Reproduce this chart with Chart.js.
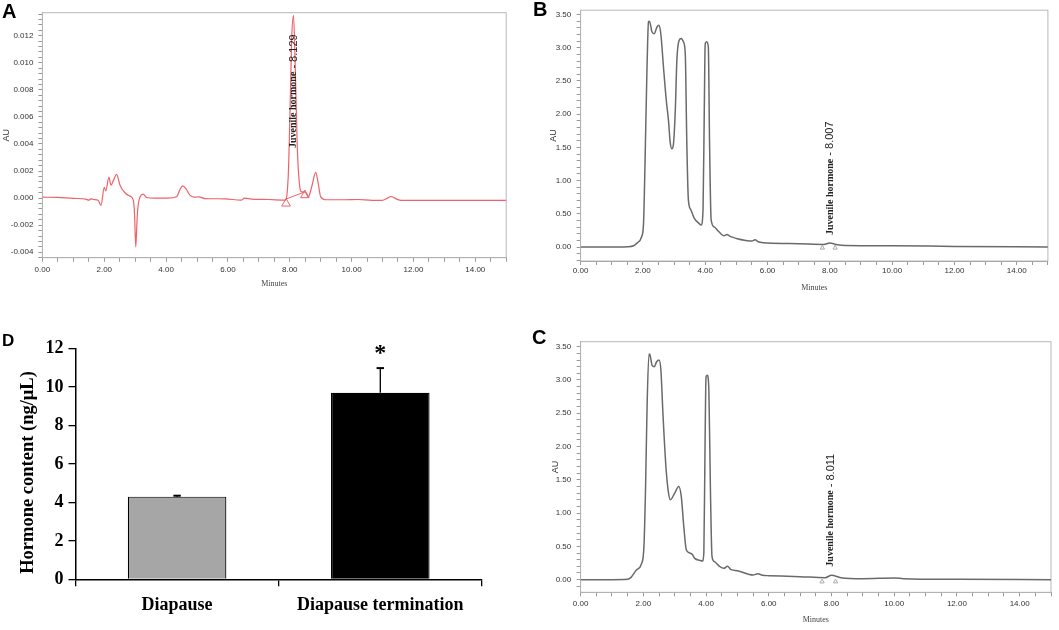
<!DOCTYPE html>
<html>
<head>
<meta charset="utf-8">
<script src="https://cdn.jsdelivr.net/npm/chart.js@4.4.0/dist/chart.umd.min.js"></script>
<style>
  html, body { margin: 0; padding: 0; background: #fff; }
  #fig { position: relative; width: 1059px; height: 630px; overflow: hidden; background: #fff; }
  .panel { position: absolute; }
  .tag { position: absolute; font-family: 'Liberation Sans', Arial, sans-serif; font-weight: bold; color: #000; }
</style>
</head>
<body>
<div id="fig">
  <div class="panel" style="left:0px;top:0px"><canvas id="chartA" width="530" height="305"></canvas></div>
  <div class="panel" style="left:530px;top:0px"><canvas id="chartB" width="529" height="305"></canvas></div>
  <div class="panel" style="left:0px;top:320px"><canvas id="chartD" width="500" height="310"></canvas></div>
  <div class="panel" style="left:530px;top:320px"><canvas id="chartC" width="529" height="305"></canvas></div>
  <div class="tag" style="left:2px;top:1px;font-size:20px;line-height:20px">A</div>
  <div class="tag" style="left:533px;top:-1px;font-size:20px;line-height:20px">B</div>
  <div class="tag" style="left:532px;top:327px;font-size:20px;line-height:20px">C</div>
  <div class="tag" style="left:2px;top:332px;font-size:17px;line-height:17px">D</div>
</div>
<script>
// --- panel A: standard, red trace (minutes / AU)
const timesA = [0, 0.5, 1.0, 1.4, 1.5, 1.57, 1.66, 1.8, 1.895, 2.0, 2.05, 2.15, 2.22, 2.3, 2.4, 2.51, 2.67, 2.83, 2.94, 2.98,
  3.02, 3.05, 3.08, 3.16, 3.26, 3.37, 3.63, 4.06, 4.34, 4.45, 4.54, 4.64, 4.77, 4.93, 5.06, 5.25, 5.9, 6.43, 6.54, 6.76,
  7.32, 7.85, 7.95, 8.01, 8.06, 8.12, 8.17, 8.24, 8.31, 8.39, 8.49, 8.6, 8.71, 8.84, 8.92, 9.0, 9.2, 9.77, 10.21, 10.66,
  10.99, 11.16, 11.27, 11.44, 11.6, 12.55, 13.66, 15];
const valuesA = [0.00007, 0.00005, -0.00002, -0.00007, -0.00015, -0.00005, -0.0001, -0.00015, -0.00054, 0.00079,
  0.00054, 0.00153, 0.00096, 0.00133, 0.00175, 0.00096, 0.0004, 0.00015, -0.00015, -0.0012,
  -0.0036, -0.0022, -0.00089, 0.0001, 0.0003, 0.00005, 0.0, 0.0, 0.0001, 0.00064,
  0.00091, 0.0007, 0.00022, 0.00007, 0.0001, -0.00003, -0.00005, -0.00015, 0.0, -0.00007,
  -0.0001, -0.00015, 0.0016, 0.0065, 0.0116, 0.0135, 0.0104, 0.004, 0.0011, 0.00047,
  0.00047, 0.0001, 0.00084, 0.0019, 0.0011, 0.0001, -0.00012, -0.00012, -0.0001, -0.00017,
  -0.00017, 0.0, 0.00012, -0.00005, -0.00017, -0.00017, -0.00017, -0.00017];
const markTimesA = [7.88, 8.49];
const markBaseA = [-0.00007, 0.00047];
const markTriA = [-0.0004, 0.00022];

// --- panel B: diapause extract
const timesB = [0, 1.0, 1.5, 1.7, 1.8, 1.96, 2.02, 2.07, 2.125, 2.18, 2.21, 2.29, 2.36, 2.45, 2.51, 2.575, 2.66, 2.75, 2.82, 2.875,
  2.93, 2.98, 3.04, 3.09, 3.16, 3.23, 3.30, 3.36, 3.41, 3.46, 3.54, 3.65, 3.79, 3.87, 3.93, 3.97, 4.0, 4.045, 4.1, 4.14,
  4.19, 4.3, 4.4, 4.5, 4.6, 4.7, 4.8, 5.0, 5.3, 5.5, 5.6, 5.7, 6.0, 7.0, 7.8, 8.0, 8.2, 8.5, 10, 12, 15];
const valuesB = [0, 0, 0.005, 0.02, 0.055, 0.155, 0.356, 1.31, 2.56, 3.39, 3.40, 3.24, 3.21, 3.31, 3.34, 3.21, 2.71, 2.21, 1.91, 1.58,
  1.48, 1.55, 2.06, 2.81, 3.11, 3.14, 3.09, 2.91, 1.55, 0.71, 0.56, 0.43, 0.36, 0.33, 0.56, 2.06, 3.06, 3.09, 3.01, 1.55,
  0.41, 0.30, 0.25, 0.20, 0.17, 0.19, 0.16, 0.13, 0.10, 0.09, 0.11, 0.08, 0.06, 0.05, 0.04, 0.06, 0.04, 0.025, 0.02, 0.01, 0];
const markTimesB = [7.76, 8.17];
const markTriB = [-0.012, -0.012];

// --- panel C: diapause termination extract
const timesC = [0, 1.0, 1.5, 1.6, 1.78, 1.94, 2.02, 2.07, 2.12, 2.18, 2.21, 2.28, 2.35, 2.42, 2.5, 2.56, 2.63, 2.72, 2.79, 2.86,
  3.0, 3.13, 3.21, 3.29, 3.37, 3.48, 3.56, 3.64, 3.8, 3.88, 3.93, 3.97, 4.0, 4.04, 4.09, 4.14, 4.19, 4.27, 4.43, 4.57,
  4.68, 4.8, 5.0, 5.5, 5.65, 5.8, 6.0, 7.0, 7.8, 8.0, 8.3, 9.0, 10.0, 10.3, 12, 15];
const valuesC = [0, 0, 0.005, 0.03, 0.146, 0.236, 0.50, 1.35, 2.60, 3.39, 3.38, 3.22, 3.20, 3.27, 3.30, 3.15, 2.45, 1.70, 1.35, 1.20,
  1.30, 1.40, 1.25, 0.80, 0.45, 0.40, 0.38, 0.32, 0.29, 0.28, 0.40, 2.10, 3.05, 3.07, 2.85, 1.35, 0.35, 0.27, 0.20, 0.17,
  0.20, 0.15, 0.135, 0.07, 0.09, 0.065, 0.06, 0.045, 0.03, 0.065, 0.03, 0.015, 0.025, 0.015, 0.005, 0];
const markTimesC = [7.70, 8.13];
const markTriC = [-0.03, -0.03];

// --- panel D: hormone content
const categories = ['Diapause', 'Diapause termination'];
const contentMeans = [4.3, 9.71];
const contentErrors = [0.05, 1.28];
const barColors = ['#a6a6a6', '#000000'];
const significance = ['', '*'];

const SANS = "'Liberation Sans', Arial, sans-serif";
const SERIF = "'Liberation Serif', 'Times New Roman', serif";

const isStep = (v, step) => Math.abs(v / step - Math.round(v / step)) < 1e-6;
const toPoints = (xs, ys) => xs.map((x, i) => ({ x: x, y: ys[i] }));

// grey box round the plot area, like the instrument software draws
const framePlugin = {
  id: 'frame',
  beforeDatasetsDraw(chart) {
    const { ctx, chartArea: a } = chart;
    ctx.save();
    ctx.strokeStyle = '#b8b8b8';
    ctx.lineWidth = 1;
    ctx.strokeRect(a.left, a.top, a.right - a.left, a.bottom - a.top);
    ctx.restore();
  }
};

function peakLabel(time, value, name, rt) {
  return {
    id: 'peakLabel',
    afterDatasetsDraw(chart) {
      const ctx = chart.ctx;
      const x = chart.scales.x.getPixelForValue(time);
      const y = chart.scales.y.getPixelForValue(value);
      ctx.save();
      ctx.translate(x, y);
      ctx.rotate(-Math.PI / 2);
      ctx.textAlign = 'left';
      ctx.textBaseline = 'middle';
      ctx.fillStyle = '#222';
      ctx.font = 'bold 10px ' + SERIF;
      ctx.fillText(name, 0, 0);
      const w = ctx.measureText(name).width;
      ctx.font = '11px ' + SANS;
      ctx.fillText(' - ' + rt, w, 0);
      ctx.restore();
    }
  };
}

function chromatogram(c) {
  const datasets = [{
    data: toPoints(c.times, c.values),
    borderColor: c.color,
    borderWidth: c.width,
    pointRadius: 0,
    cubicInterpolationMode: 'monotone',
    fill: false
  }];
  if (c.markBase) {
    datasets.push({
      data: toPoints(c.markTimes, c.markBase),
      borderColor: c.color,
      borderWidth: 1,
      pointRadius: 0,
      fill: false
    });
  }
  datasets.push({
    data: toPoints(c.markTimes, c.markTri),
    showLine: false,
    pointStyle: 'triangle',
    pointRadius: c.triSize,
    pointBackgroundColor: 'rgba(255,255,255,0)',
    pointBorderColor: c.triColor,
    pointBorderWidth: 1
  });

  return {
    type: 'line',
    data: { datasets: datasets },
    options: {
      responsive: false,
      animation: false,
      layout: { padding: { left: 0, top: c.padTop, right: c.padRight, bottom: 0 } },
      plugins: { legend: { display: false }, tooltip: { enabled: false } },
      scales: {
        x: {
          type: 'linear', min: 0, max: 15,
          border: { color: '#999' },
          grid: { drawOnChartArea: false, tickLength: 4, color: '#999' },
          ticks: {
            stepSize: 0.5, autoSkip: false, maxRotation: 0, includeBounds: false,
            padding: c.xTickPad, color: '#333', font: { family: SANS, size: 8 },
            callback: v => isStep(v, 2) ? v.toFixed(2) : ''
          },
          title: {
            display: true, text: 'Minutes', color: '#444',
            font: { family: SERIF, size: 8 }, padding: { top: 0, bottom: c.minutesPad }
          },
          afterFit: s => { s.height = c.xHeight; }
        },
        y: {
          min: c.yMin, max: c.yMax,
          border: { color: '#999' },
          grid: { drawOnChartArea: false, tickLength: 4, color: '#999' },
          ticks: {
            stepSize: c.minorStep, autoSkip: false, includeBounds: false,
            padding: c.yTickPad, color: '#333', font: { family: SANS, size: 8 },
            callback: v => isStep(v, c.majorStep) ? (Math.abs(v) < 1e-9 ? 0 : v).toFixed(c.digits) : ''
          },
          title: {
            display: true, text: 'AU', color: '#333',
            font: { family: SANS, size: 9 }, padding: { top: c.auPad, bottom: 0 }
          },
          afterFit: s => { s.width = c.yWidth; }
        }
      }
    },
    plugins: [framePlugin, peakLabel(c.peak[0], c.peak[1], 'Juvenile hormone', c.peak[2])]
  };
}

new Chart(document.getElementById('chartA'), chromatogram({
  times: timesA, values: valuesA, color: 'rgb(238,98,104)', width: 1.2,
  markTimes: markTimesA, markBase: markBaseA, markTri: markTriA, triSize: 5, triColor: 'rgb(238,98,104)',
  yMin: -0.0044, yMax: 0.0137, minorStep: 0.0004, majorStep: 0.002, digits: 3,
  padTop: 12.7, padRight: 23.8, yWidth: 42.4, xHeight: 47.3,
  xTickPad: 2.8, yTickPad: 5, minutesPad: 15.9, auPad: 1.5,
  peak: [8.12, 0.0037, '8.129']
}));

new Chart(document.getElementById('chartB'), chromatogram({
  times: timesB, values: valuesB, color: '#6a6a6a', width: 1.5,
  markTimes: markTimesB, markTri: markTriB, triSize: 2.5, triColor: '#aaa',
  yMin: -0.21, yMax: 3.565, minorStep: 0.1, majorStep: 0.5, digits: 2,
  padTop: 10, padRight: 11.1, yWidth: 50.6, xHeight: 44,
  xTickPad: 0.5, yTickPad: 5.4, minutesPad: 11.9, auPad: 18.2,
  peak: [8.01, 0.18, '8.007']
}));

new Chart(document.getElementById('chartC'), chromatogram({
  times: timesC, values: valuesC, color: '#6a6a6a', width: 1.5,
  markTimes: markTimesC, markTri: markTriC, triSize: 2.5, triColor: '#aaa',
  yMin: -0.19, yMax: 3.575, minorStep: 0.1, majorStep: 0.5, digits: 2,
  padTop: 21.7, padRight: 8, yWidth: 50.6, xHeight: 32.7,
  xTickPad: 2.5, yTickPad: 5.4, minutesPad: 0.7, auPad: 19.9,
  peak: [7.97, 0.195, '8.011']
}));

// error bars, significance mark and axis title for panel D
const errorBarPlugin = {
  id: 'errorBars',
  afterDatasetsDraw(chart) {
    const ctx = chart.ctx;
    const y = chart.scales.y;
    const bars = chart.getDatasetMeta(0).data;
    ctx.save();
    ctx.strokeStyle = '#000';
    bars.forEach((bar, i) => {
      const top = y.getPixelForValue(contentMeans[i] + contentErrors[i]);
      const base = y.getPixelForValue(contentMeans[i]);
      ctx.lineWidth = 1.3;
      ctx.beginPath();
      ctx.moveTo(bar.x, base);
      ctx.lineTo(bar.x, top);
      ctx.stroke();
      ctx.lineWidth = 2;
      ctx.beginPath();
      ctx.moveTo(bar.x - 3.7, top);
      ctx.lineTo(bar.x + 3.7, top);
      ctx.stroke();
      if (significance[i]) {
        ctx.fillStyle = '#000';
        ctx.font = 'bold 24px ' + SERIF;
        ctx.textAlign = 'center';
        ctx.textBaseline = 'alphabetic';
        const m = ctx.measureText(significance[i]);
        const target = top - 19;
        ctx.fillText(significance[i], bar.x, target + (m.actualBoundingBoxAscent - m.actualBoundingBoxDescent) / 2);
      }
    });
    // y title sits a little below the middle of the axis in the original
    const a = chart.chartArea;
    ctx.save();
    ctx.translate(28.7, a.bottom - 106.8);
    ctx.rotate(-Math.PI / 2);
    ctx.fillStyle = '#000';
    ctx.font = 'bold 18.5px ' + SERIF;
    ctx.textAlign = 'center';
    ctx.textBaseline = 'middle';
    ctx.fillText('Hormone content (ng/μL)', 0, 0);
    ctx.restore();
    ctx.restore();
  }
};

new Chart(document.getElementById('chartD'), {
  type: 'bar',
  data: {
    labels: categories,
    datasets: [{
      data: contentMeans,
      backgroundColor: barColors,
      borderColor: '#000',
      borderWidth: 1.2,
      barPercentage: 0.485,
      categoryPercentage: 1
    }]
  },
  options: {
    responsive: false,
    animation: false,
    layout: { padding: { left: 0, top: 28.7, right: 18.1, bottom: 0 } },
    plugins: { legend: { display: false }, tooltip: { enabled: false } },
    scales: {
      x: {
        border: { color: '#000', width: 1.5 },
        grid: { drawOnChartArea: false, offset: true, tickLength: 7, color: '#000', lineWidth: 1.3 },
        ticks: { color: '#000', padding: 8, maxRotation: 0, font: { family: SERIF, size: 18, weight: 'bold' } },
        afterFit: s => { s.height = 50.7; }
      },
      y: {
        min: 0, max: 12,
        border: { color: '#000', width: 1.5 },
        grid: { drawOnChartArea: false, tickLength: 7, color: '#000', lineWidth: 1.3 },
        ticks: { stepSize: 2, color: '#000', padding: 5, font: { family: SERIF, size: 18, weight: 'bold' } },
        afterFit: s => { s.width = 75.5; }
      }
    }
  },
  plugins: [errorBarPlugin]
});
</script>
</body>
</html>
